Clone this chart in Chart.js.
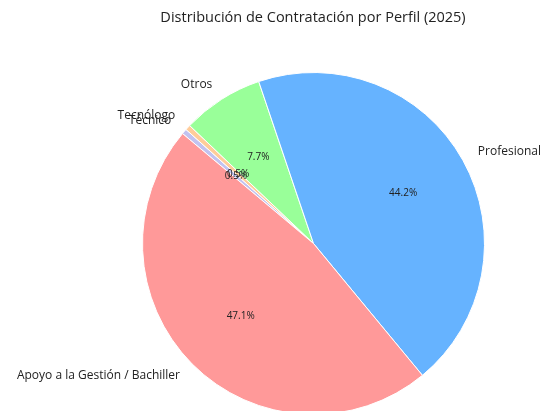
<!DOCTYPE html>
<html>
<head>
<meta charset="utf-8">
<script src="https://cdn.jsdelivr.net/npm/chart.js@4"></script>
<style>
    html, body { margin: 0; background: #fff; overflow: hidden; }
    canvas { display: block; }
</style>
</head>
<body>
<canvas id="pieChart" width="543" height="415"></canvas>
<script>
const chartTitle = 'Distribución de Contratación por Perfil (2025)';
const categories = ['Apoyo a la Gestión / Bachiller', 'Profesional', 'Otros', 'Tecnólogo', 'Técnico'];
const shares = [47.1, 44.2, 7.7, 0.5, 0.5];
const colors = ['#ff9999', '#66b3ff', '#99ff99', '#ffcc99', '#c2c2f0'];
const START_ANGLE = 140; // counterclockwise from 3 o'clock, like the original

const FONT = '"Open Sans", sans-serif';

// matplotlib goes counterclockwise, Chart.js clockwise -> reverse the order
const order = categories.map((_, i) => i).reverse();

const pieLabels = {
    id: 'pieLabels',
    afterDatasetsDraw(chart) {
        const ctx = chart.ctx;
        const meta = chart.getDatasetMeta(0);
        ctx.save();

        // title
        ctx.fillStyle = '#222';
        ctx.font = `14.5px ${FONT}`;
        ctx.textAlign = 'center';
        ctx.textBaseline = 'middle';
        ctx.fillText(chartTitle, 313, 18);

        meta.data.forEach((arc, i) => {
            const idx = order[i];
            const mid = (arc.startAngle + arc.endAngle) / 2;
            const r = arc.outerRadius;
            const cos = Math.cos(mid), sin = Math.sin(mid);

            ctx.fillStyle = '#222';
            ctx.font = `12px ${FONT}`;
            ctx.textAlign = cos >= 0 ? 'left' : 'right';
            ctx.fillText(categories[idx], arc.x + cos * r * 1.1, arc.y + sin * r * 1.1);

            ctx.font = `10px ${FONT}`;
            ctx.textAlign = 'center';
            ctx.fillText(shares[idx].toFixed(1) + '%', arc.x + cos * r * 0.6, arc.y + sin * r * 0.6);
        });
        ctx.restore();
    }
};

new Chart(document.getElementById('pieChart'), {
    type: 'pie',
    data: {
        labels: order.map(i => categories[i]),
        datasets: [{
            data: order.map(i => shares[i]),
            backgroundColor: order.map(i => colors[i]),
            borderColor: '#ffffff',
            borderWidth: 1
        }]
    },
    options: {
        responsive: false,
        animation: false,
        rotation: 90 - START_ANGLE,
        layout: { padding: { top: 72, left: 142, right: 58, bottom: 0 } },
        plugins: {
            legend: { display: false },
            title: { display: false },
            tooltip: { enabled: false }
        }
    },
    plugins: [pieLabels]
});
</script>
</body>
</html>
